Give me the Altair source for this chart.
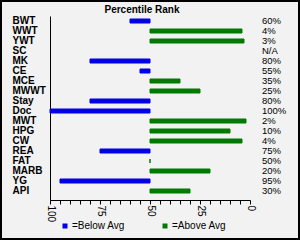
import altair as alt
import pandas as pd

traits = ["BWT", "WWT", "YWT", "SC", "MK", "CE", "MCE", "MWWT", "Stay", "Doc",
          "MWT", "HPG", "CW", "REA", "FAT", "MARB", "YG", "API"]
percentile = [60, 4, 3, None, 80, 55, 35, 25, 80, 100, 2, 10, 4, 75, 50, 20, 95, 30]
rank_labels = ["60%", "4%", "3%", "N/A", "80%", "55%", "35%", "25%", "80%", "100%",
               "2%", "10%", "4%", "75%", "50%", "20%", "95%", "30%"]
groups = ["=Below Avg", "=Above Avg"]
colors = ["#0000e6", "#007a00"]
x_ticks = list(range(0, 101, 5))
title_text = "Percentile Rank"

df = pd.DataFrame({"trait": traits, "pct": percentile, "label": rank_labels})
df["side"] = [groups[0] if (p is not None and p > 50) else groups[1] for p in percentile]

FONT = "Liberation Sans"

yscale = alt.Scale(paddingInner=0.6, paddingOuter=0.5, align=0.3)
y_enc = alt.Y("trait:N", sort=traits, scale=yscale,
              axis=alt.Axis(title=None, labelAlign="left", labelPadding=38, ticks=False,
                            tickSize=0, labelFont=FONT, labelFontSize=10,
                            labelFontWeight="bold", labelColor="black",
                            domainColor="black", domainWidth=1, grid=False))

bars = alt.Chart(df).transform_filter("isValid(datum.pct)").mark_bar(
    strokeWidth=1
).encode(
    y=y_enc,
    x=alt.X("pct:Q",
            scale=alt.Scale(domain=[0, 100], reverse=True, nice=False, zero=False),
            axis=alt.Axis(title=None, values=x_ticks,
                          labelExpr="datum.value % 25 == 0 ? datum.label : ''",
                          labelAngle=90, labelAlign="left", labelBaseline="middle",
                          labelPadding=1, tickSize=4, tickColor="black",
                          domainColor="black", labelFont=FONT, labelFontSize=10,
                          labelColor="black", grid=False, labelOverlap=False,
                          labelFlush=False)),
    x2=alt.datum(50),
    color=alt.Color("side:N", scale=alt.Scale(domain=groups, range=colors),
                    legend=alt.Legend(title=None, orient="none", legendX=10, legendY=205,
                                      direction="horizontal", symbolType="square",
                                      symbolSize=25, labelFont=FONT, labelFontSize=10,
                                      labelColor="black", columnPadding=35,
                                      labelOffset=2, symbolStrokeWidth=0)),
    stroke=alt.Color("side:N", scale=alt.Scale(domain=groups, range=colors), legend=None),
)

labels = alt.Chart(df).mark_text(
    align="left", baseline="middle", font=FONT, fontSize=9.5, color="black"
).encode(
    y=alt.Y("trait:N", sort=traits),
    x=alt.value(212),
    text="label:N",
)

title = alt.Chart(pd.DataFrame({"t": [title_text]})).mark_text(
    align="center", baseline="alphabetic", font=FONT, fontSize=10,
    fontWeight="bold", color="black"
).encode(x=alt.value(92), y=alt.value(-3), text="t:N")

frame = alt.Chart(pd.DataFrame({"a": [0]})).mark_rect(
    fill=None, stroke="black", strokeWidth=2
).encode(x=alt.value(-49), x2=alt.value(249), y=alt.value(-15), y2=alt.value(223))

chart = alt.layer(bars, labels, title, frame).properties(
    width=200, height=184,
    padding={"left": 50, "top": 16, "right": 50, "bottom": 40},
    autosize=alt.AutoSizeParams(type="none"),
    background="#f2f2f2",
).configure_view(stroke=None)

chart.save("out.html", embed_options={"renderer": "svg", "actions": False})
